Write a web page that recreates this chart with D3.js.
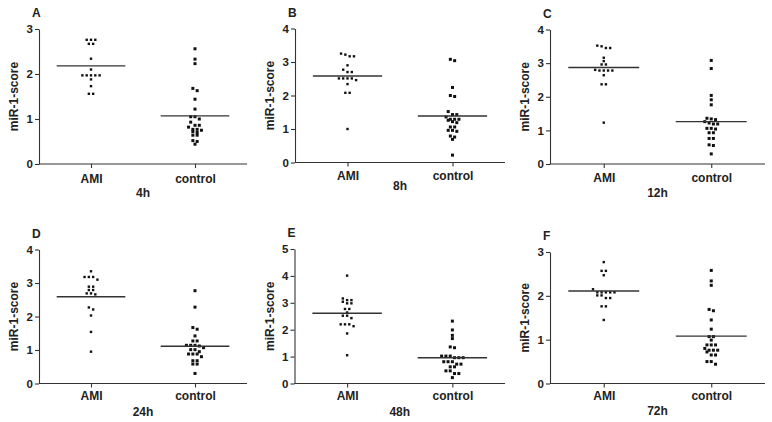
<!DOCTYPE html>
<html><head><meta charset="utf-8">
<script src="https://cdn.jsdelivr.net/npm/d3@7"></script>
<style>
html,body{margin:0;padding:0;background:#fff;}
text{font-family:"Liberation Sans",Arial,sans-serif;font-weight:bold;fill:#222;}
</style></head>
<body><svg id="c" width="772" height="422"></svg>
<script>
// ---- data ----
const categories = ["AMI", "control"];
const panelLetters = ["A", "B", "C", "D", "E", "F"];
const timeLabels = ["4h", "8h", "12h", "24h", "48h", "72h"];
const yMaxes = [3, 4, 4, 4, 5, 3];
const yAxisLabel = "miR-1-score";

const ami4h = [2.76, 2.76, 2.76, 2.67, 2.67, 2.34, 2.10, 1.97, 1.97, 1.97, 1.97, 1.97, 1.88, 1.73, 1.56, 1.56];
const control4h = [2.56, 2.33, 2.23, 1.68, 1.63, 1.44, 1.22, 1.05, 1.05, 1.00, 0.93, 0.86, 0.86, 0.82, 0.77, 0.77, 0.75, 0.72, 0.70, 0.64, 0.64, 0.52, 0.50, 0.44];
const ami8h = [3.22, 3.17, 3.17, 3.25, 2.90, 2.77, 2.70, 2.70, 2.51, 2.51, 2.51, 2.51, 2.46, 2.34, 2.08, 2.08, 1.00];
const control8h = [3.08, 3.04, 2.24, 2.00, 1.97, 1.52, 1.43, 1.43, 1.36, 1.29, 1.29, 1.29, 1.26, 1.22, 1.19, 1.06, 1.06, 0.96, 0.96, 0.93, 0.79, 0.76, 0.69, 0.22];
const ami12h = [3.52, 3.45, 3.45, 3.50, 3.16, 3.06, 2.96, 2.96, 2.80, 2.78, 2.78, 2.78, 2.78, 2.64, 2.37, 2.37, 1.23];
const control12h = [3.08, 2.84, 2.04, 1.91, 1.76, 1.36, 1.34, 1.32, 1.26, 1.22, 1.19, 1.19, 1.06, 1.06, 1.04, 0.93, 0.93, 0.76, 0.76, 0.57, 0.55, 0.30];
const ami24h = [3.35, 3.18, 3.18, 3.18, 3.10, 2.89, 2.89, 2.79, 2.79, 2.69, 2.69, 2.66, 2.27, 2.21, 2.03, 1.54, 0.95];
const control24h = [2.77, 2.28, 1.67, 1.62, 1.42, 1.27, 1.27, 1.14, 1.14, 1.14, 1.12, 1.07, 1.01, 1.01, 0.95, 0.88, 0.88, 0.88, 0.80, 0.68, 0.68, 0.58, 0.58, 0.30];
const ami48h = [4.01, 3.16, 3.10, 3.10, 3.04, 2.98, 2.98, 2.77, 2.77, 2.64, 2.52, 2.52, 2.43, 2.20, 2.20, 2.20, 2.13, 1.86, 1.05];
const control48h = [2.32, 1.99, 1.79, 1.67, 1.36, 1.33, 1.02, 1.02, 1.02, 0.96, 0.96, 0.96, 0.81, 0.81, 0.81, 0.72, 0.72, 0.62, 0.62, 0.47, 0.47, 0.37, 0.37, 0.22];
const ami72h = [2.77, 2.57, 2.57, 2.47, 2.15, 2.08, 2.08, 2.08, 2.08, 2.08, 2.01, 2.01, 1.95, 1.95, 1.76, 1.76, 1.45];
const control72h = [2.58, 2.34, 2.24, 1.69, 1.66, 1.45, 1.24, 1.07, 1.07, 0.99, 0.88, 0.88, 0.88, 0.80, 0.76, 0.76, 0.76, 0.72, 0.65, 0.65, 0.50, 0.50, 0.44];

const amiMeans = [2.18, 2.58, 2.87, 2.59, 2.61, 2.11];
const controlMeans = [1.07, 1.39, 1.26, 1.11, 0.96, 1.08];

const amiSeries = [ami4h, ami8h, ami12h, ami24h, ami48h, ami72h];
const controlSeries = [control4h, control8h, control12h, control24h, control48h, control72h];

// ---- layout ----
const layouts = [
  {x0: 39, x1: 247, yTop: 29, yBot: 164, catBase: 18.5, titleBase: 33},
  {x0: 295, x1: 505, yTop: 28.5, yBot: 162.5, catBase: 17.5, titleBase: 27},
  {x0: 550, x1: 765, yTop: 29.5, yBot: 164, catBase: 17.5, titleBase: 33},
  {x0: 39, x1: 247, yTop: 249.5, yBot: 383.5, catBase: 16.5, titleBase: 32.5},
  {x0: 294.5, x1: 505, yTop: 249, yBot: 383.5, catBase: 16, titleBase: 32.5},
  {x0: 550, x1: 765, yTop: 252, yBot: 383.5, catBase: 16, titleBase: 31.5}
];

const svg = d3.select("#c");
const axisColor = "#333";

function swarm(values, cx, y, dx, rowTol) {
  const pts = values.map(v => ({v, py: y(v)})).sort((a, b) => a.py - b.py);
  const rows = [];
  pts.forEach(p => {
    const r = rows.length ? rows[rows.length - 1] : null;
    if (r && Math.abs(p.py - r[0].py) <= rowTol) r.push(p); else rows.push([p]);
  });
  const out = [];
  rows.forEach(r => {
    const n = r.length;
    r.forEach((p, i) => {
      out.push({x: cx + (i - (n - 1) / 2) * dx, y: p.py});
    });
  });
  return out;
}

layouts.forEach((L, i) => {
  const g = svg.append("g");
  const x = d3.scalePoint().domain(categories).range([L.x0, L.x1]).padding(0.5);
  const y = d3.scaleLinear().domain([0, yMaxes[i]]).range([L.yBot, L.yTop]);
  const band = x.step();

  // y axis
  const ya = g.append("g").attr("transform", `translate(${L.x0},0)`)
    .call(d3.axisLeft(y).ticks(yMaxes[i]).tickFormat(d3.format("d")).tickSize(4).tickSizeOuter(0).tickPadding(2));
  ya.selectAll("path,line").attr("stroke", axisColor).attr("stroke-width", 1.1);
  ya.selectAll("text").style("font-size", "11.5px").attr("fill", "#222");

  // x axis
  const xa = g.append("g").attr("transform", `translate(0,${L.yBot})`)
    .call(d3.axisBottom(x).tickSize(4).tickSizeOuter(0).tickPadding(L.catBase - 12.5));
  xa.select("path").attr("d", `M${L.x0},0H${L.x1}`);
  xa.selectAll("path,line").attr("stroke", axisColor).attr("stroke-width", 1.1);
  xa.selectAll("text").style("font-size", "12px").attr("fill", "#222");

  // titles
  g.append("text").attr("x", (L.x0 + L.x1) / 2).attr("y", L.yBot + L.titleBase)
    .attr("text-anchor", "middle").style("font-size", "12px").text(timeLabels[i]);
  g.append("text").attr("x", L.x0 - 7).attr("y", L.yTop - 12)
    .style("font-size", "12px").text(panelLetters[i]);
  g.append("text").attr("transform", `translate(${L.x0 - 21},${(L.yTop + L.yBot) / 2}) rotate(-90)`)
    .attr("text-anchor", "middle").style("font-size", "12px").text(yAxisLabel);

  // points
  const groups = [
    {cat: "AMI", vals: amiSeries[i], mean: amiMeans[i], size: 2.4},
    {cat: "control", vals: controlSeries[i], mean: controlMeans[i], size: 3}
  ];
  groups.forEach(G => {
    const cx = x(G.cat);
    const pts = swarm(G.vals, cx, y, 4.3, 3.2);
    g.append("g").selectAll("rect").data(pts).join("rect")
      .attr("x", d => d.x - G.size / 2).attr("y", d => d.y - G.size / 2)
      .attr("width", G.size).attr("height", G.size).attr("fill", "#111");
    const hw = band * 0.33;
    g.append("line").attr("x1", cx - hw).attr("x2", cx + hw)
      .attr("y1", y(G.mean)).attr("y2", y(G.mean))
      .attr("stroke", "#333").attr("stroke-width", 1.4);
  });
});
</script>
</body></html>
